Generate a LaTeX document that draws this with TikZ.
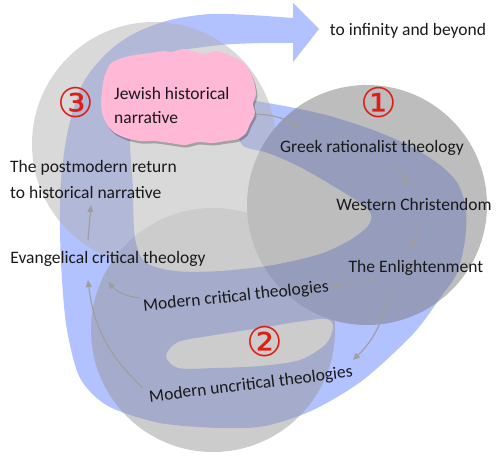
\documentclass[tikz,border=0pt]{standalone}
\usepackage{fontspec}
\setmainfont{Carlito}
\newfontfamily\numfont{DejaVu Sans}
\usetikzlibrary{arrows.meta}

\definecolor{bandblue}{RGB}{178,193,255}
\definecolor{ringone}{RGB}{123,123,123}
\definecolor{ringtwo}{RGB}{153,153,153}
\definecolor{ringthree}{RGB}{179,179,179}
\definecolor{cloudpink}{RGB}{255,184,214}
\definecolor{numred}{RGB}{222,30,20}

\begin{document}
\begin{tikzpicture}[
    x=1pt, y=-1pt,
    txt/.style={font=\fontsize{17.5}{19}\selectfont, text=black!90, inner sep=1pt},
    flow/.style={-{Triangle[length=7pt,width=6pt]}, draw=black!38, line width=1.1pt},
    numeral/.style={font=\numfont\fontsize{41}{41}\selectfont, text=numred, inner sep=0pt}
  ]
  \useasboundingbox (0,0) rectangle (500,458);

  % ===== Blue ribbon =====
  \fill[bandblue, even odd rule]
    (293,18) -- plot[smooth] coordinates {(293,18) (250,15) (210,14) (170,20) (135,33) (108,52)
      (83,83) (68,130) (61,180) (60,230) (62,280) (67,330) (80,378) (108,406) (160,423)
      (220,428) (265,426) (313,410) (363,380) (413,334) (440,298) (457,273) (465,240)
      (466,210) (458,184) (440,165) (410,146) (373,130) (330,116) (295,108) (262,102)}
    -- (200,90) -- (165,62)
    -- plot[smooth] coordinates {(175,51) (220,45) (260,43) (293,43)}
    -- (293,62) -- (319,29) -- (293,3) -- cycle
    plot[smooth cycle] coordinates {(133,120) (133,190) (135,238) (145,262) (175,271)
      (220,271) (273,265) (320,254) (350,240) (368,226) (371,214) (360,203) (335,187)
      (300,167) (268,153) (243,146) (232,128) (180,118)}
    plot[smooth cycle] coordinates {(166,356) (178,342) (215,335) (260,328) (303,321)
      (327,319) (333,327) (326,344) (300,360) (260,366) (215,368) (178,368)};

  % ===== Circles =====
  \begin{scope}[transparency group, opacity=0.5]
    \fill[ringthree] (154,144) circle[radius=122];
    \fill[ringtwo]   (213,330) circle[radius=122];
    \fill[ringone]   (367,205) circle[radius=120];
  \end{scope}

  % ===== Cloud =====
  \fill[black, opacity=0.25, shift={(1.5,2.5)}] plot[smooth cycle, tension=0.4] coordinates {
    (104,78) (110,64) (122,58) (135,55) (150,53) (163,51) (172,52) (183,49) (195,52)
    (207,54) (216,51) (226,54) (236,58) (244,63) (250,72) (254,82) (256,94) (253,104)
    (255,114) (250,124) (246,133) (238,139) (226,141) (212,143) (198,142) (185,145)
    (170,143) (155,141) (140,141) (126,138) (115,133) (108,126) (103,116) (101,104) (102,91)};
  \fill[cloudpink] plot[smooth cycle, tension=0.4] coordinates {
    (104,78) (110,64) (122,58) (135,55) (150,53) (163,51) (172,52) (183,49) (195,52)
    (207,54) (216,51) (226,54) (236,58) (244,63) (250,72) (254,82) (256,94) (253,104)
    (255,114) (250,124) (246,133) (238,139) (226,141) (212,143) (198,142) (185,145)
    (170,143) (155,141) (140,141) (126,138) (115,133) (108,126) (103,116) (101,104) (102,91)};

  % ===== Labels =====
  \node[txt] (beyond) at (408,31) {to infinity and beyond};
  \node[txt, font=\fontsize{17.5}{24}\selectfont, anchor=west, align=left] (jewish) at (113,105) {Jewish historical\\narrative};
  \node[txt] (greek) at (372,148) {Greek rationalist theology};
  \node[txt] (western) at (414,204) {Western Christendom};
  \node[txt] (enlight) at (416,268) {The Enlightenment};
  \node[txt, font=\fontsize{17.5}{26}\selectfont, anchor=west, align=left] (postmod) at (9,179) {The postmodern return\\to historical narrative};
  \node[txt] (evang) at (108,259) {Evangelical critical theology};
  \node[txt, rotate=6] (modcrit) at (236,297) {Modern critical theologies};
  \node[txt, rotate=7] (moduncrit) at (251,385) {Modern uncritical theologies};

  \node[numeral] (one) at (379,103) {①};
  \node[numeral] (two) at (265,342) {②};
  \node[numeral] (three) at (76,103) {③};

  % ===== Connections =====
  \draw[flow] ([shift={(141,9)}]jewish.west) to[bend left=15] ([shift={(-72,-20)}]greek.center);
  \draw[flow] ([shift={(15,15)}]greek.center) to[bend left=20] ([shift={(-7,-19)}]western.center);
  \draw[flow] ([shift={(6,16)}]western.center) to[bend left=10] ([shift={(-6,-21)}]enlight.center);
  \draw[flow] ([shift={(-43,12)}]enlight.center) to[bend left=5] ([shift={(94,-10)}]modcrit.center);
  \draw[flow] ([shift={(-96,1)}]modcrit.center) to[bend left=20] ([shift={(0,23)}]evang.center);
  \draw[flow] ([shift={(-28,19)}]enlight.center) to[bend left=20] ([shift={(102,-25)}]moduncrit.center);
  \draw[flow] ([shift={(-108,3)}]moduncrit.center) to[bend left=20] ([shift={(-20,21)}]evang.center);
  \draw[flow] ([shift={(-20,-19)}]evang.center) -- ([shift={(82,26)}]postmod.west);
\end{tikzpicture}
\end{document}
